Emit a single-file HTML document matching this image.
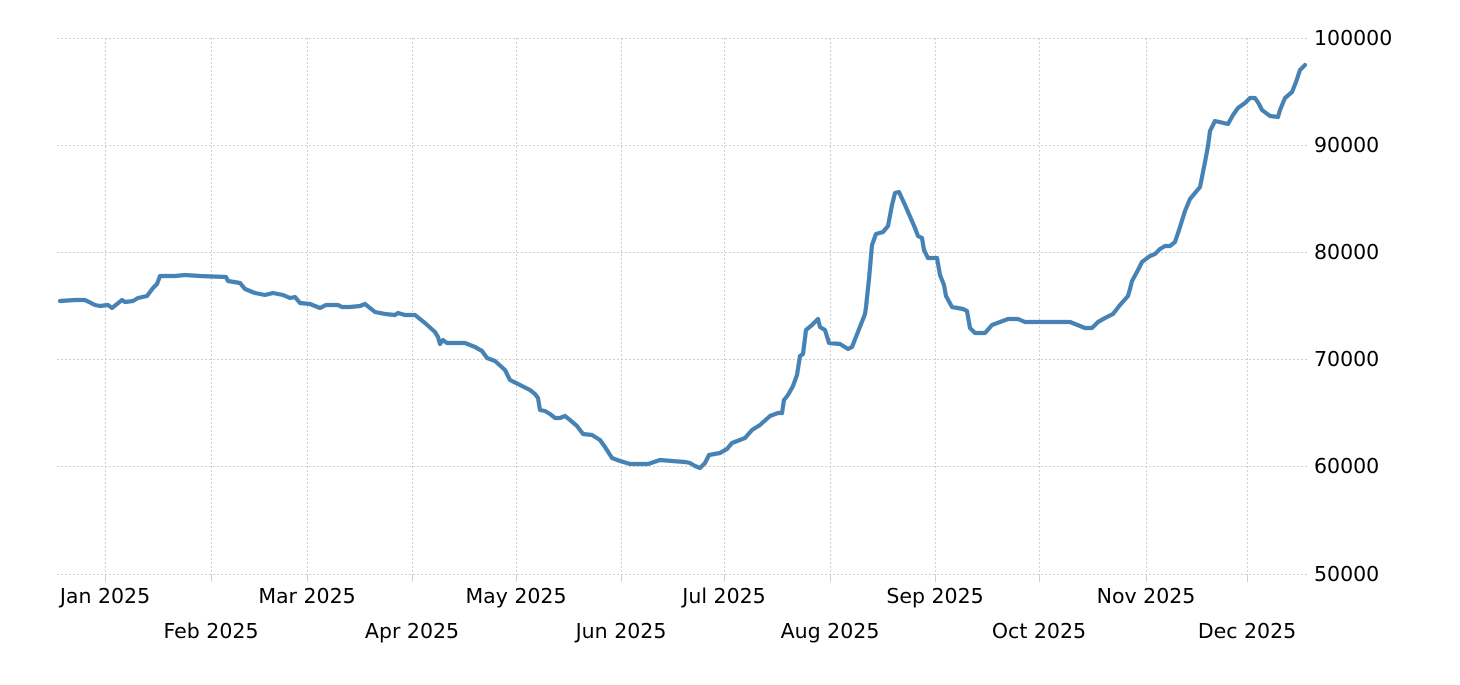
<!DOCTYPE html>
<html><head><meta charset="utf-8"><style>
html,body{margin:0;padding:0;background:#fff;}
svg text{font-family:"DejaVu Sans","Liberation Sans",sans-serif;font-size:20.5px;fill:#000;}
</style></head><body>
<svg width="1460" height="680" xmlns="http://www.w3.org/2000/svg">
<g stroke="#cfcfcf" stroke-width="1" stroke-dasharray="2,2" fill="none">
<line x1="57" y1="38.5" x2="1307" y2="38.5"/>
<line x1="57" y1="145.5" x2="1307" y2="145.5"/>
<line x1="57" y1="252.5" x2="1307" y2="252.5"/>
<line x1="57" y1="359.5" x2="1307" y2="359.5"/>
<line x1="57" y1="466.5" x2="1307" y2="466.5"/>
<line x1="57" y1="574.5" x2="1307" y2="574.5"/>
<line x1="105.5" y1="38" x2="105.5" y2="574"/>
<line x1="211.5" y1="38" x2="211.5" y2="574"/>
<line x1="307.5" y1="38" x2="307.5" y2="574"/>
<line x1="412.5" y1="38" x2="412.5" y2="574"/>
<line x1="516.5" y1="38" x2="516.5" y2="574"/>
<line x1="621.5" y1="38" x2="621.5" y2="574"/>
<line x1="724.5" y1="38" x2="724.5" y2="574"/>
<line x1="830.5" y1="38" x2="830.5" y2="574"/>
<line x1="935.5" y1="38" x2="935.5" y2="574"/>
<line x1="1039.5" y1="38" x2="1039.5" y2="574"/>
<line x1="1146.5" y1="38" x2="1146.5" y2="574"/>
<line x1="1247.5" y1="38" x2="1247.5" y2="574"/>
</g>
<g stroke="#cfcfcf" stroke-width="1">
<line x1="105.5" y1="574" x2="105.5" y2="582"/><line x1="211.5" y1="574" x2="211.5" y2="582"/>
<line x1="307.5" y1="574" x2="307.5" y2="582"/><line x1="412.5" y1="574" x2="412.5" y2="582"/>
<line x1="516.5" y1="574" x2="516.5" y2="582"/><line x1="621.5" y1="574" x2="621.5" y2="582"/>
<line x1="724.5" y1="574" x2="724.5" y2="582"/><line x1="830.5" y1="574" x2="830.5" y2="582"/>
<line x1="935.5" y1="574" x2="935.5" y2="582"/><line x1="1039.5" y1="574" x2="1039.5" y2="582"/>
<line x1="1146.5" y1="574" x2="1146.5" y2="582"/><line x1="1247.5" y1="574" x2="1247.5" y2="582"/>
</g>
<polyline fill="none" stroke="#4682b4" stroke-width="4.2" stroke-linejoin="round" stroke-linecap="round" points="60,301 75,300 85,300 95,305 100,306 108,305 112,308 122,300 125,302 133,301 138,298 147,296 153,288 157,284 160,276 175,276 185,275 200,276 226,277 228,281 240,283 245,289 255,293 265,295 273,293 283,295 290,298 295,297 300,303 310,304 320,308 326,305 338,305 342,307 350,307 360,306 365,304 370,308 375,312 385,314 395,315 398,313 405,315 415,315 425,323 435,332 438,337 440,344 443,340 447,343 465,343 475,347 482,351 487,358 495,361 505,370 510,380 520,385 530,390 535,394 538,398 540,410 545,411 550,414 555,418 560,418 565,416 570,420 577,426 583,434 592,435 600,440 605,447 612,458 620,461 630,464 648,464 660,460 672,461 685,462 690,463 695,466 700,468 705,463 709,455 720,453 727,449 732,443 745,438 752,430 760,425 770,416 778,413 782,413 784,400 788,395 793,386 797,375 800,356 803,354 806,330 812,325 818,319 820,327 825,330 829,343 840,344 848,349 852,347 865,314 866,307 869,279 872,245 876,234 883,232 888,226 892,205 895,193 899,192 905,205 915,228 918,236 922,238 924,250 928,258 937,258 940,275 944,285 946,296 952,307 963,309 967,311 970,328 975,333 985,333 992,325 1000,322 1008,319 1018,319 1025,322 1040,322 1070,322 1080,326 1085,328 1092,328 1098,322 1105,318 1113,314 1120,305 1128,296 1130,289 1132,281 1138,270 1142,262 1150,256 1155,254 1160,249 1165,246 1170,246 1175,242 1180,227 1185,211 1190,199 1195,193 1200,187 1205,162 1208,146 1210,131 1215,121 1228,124 1233,115 1238,108 1245,103 1250,98 1255,98 1259,104 1262,110 1270,116 1278,117 1280,110 1285,98 1292,92 1296,82 1300,70 1305,65"/>
<g text-anchor="start">
<text x="1314" y="45">100000</text>
<text x="1314" y="152">90000</text>
<text x="1314" y="259">80000</text>
<text x="1314" y="366">70000</text>
<text x="1314" y="473">60000</text>
<text x="1314" y="581">50000</text>
</g>
<g text-anchor="middle">
<text x="105" y="603">Jan 2025</text>
<text x="211" y="638">Feb 2025</text>
<text x="307" y="603">Mar 2025</text>
<text x="412" y="638">Apr 2025</text>
<text x="516" y="603">May 2025</text>
<text x="621" y="638">Jun 2025</text>
<text x="724" y="603">Jul 2025</text>
<text x="830" y="638">Aug 2025</text>
<text x="935" y="603">Sep 2025</text>
<text x="1039" y="638">Oct 2025</text>
<text x="1146" y="603">Nov 2025</text>
<text x="1247" y="638">Dec 2025</text>
</g>
</svg>
</body></html>
